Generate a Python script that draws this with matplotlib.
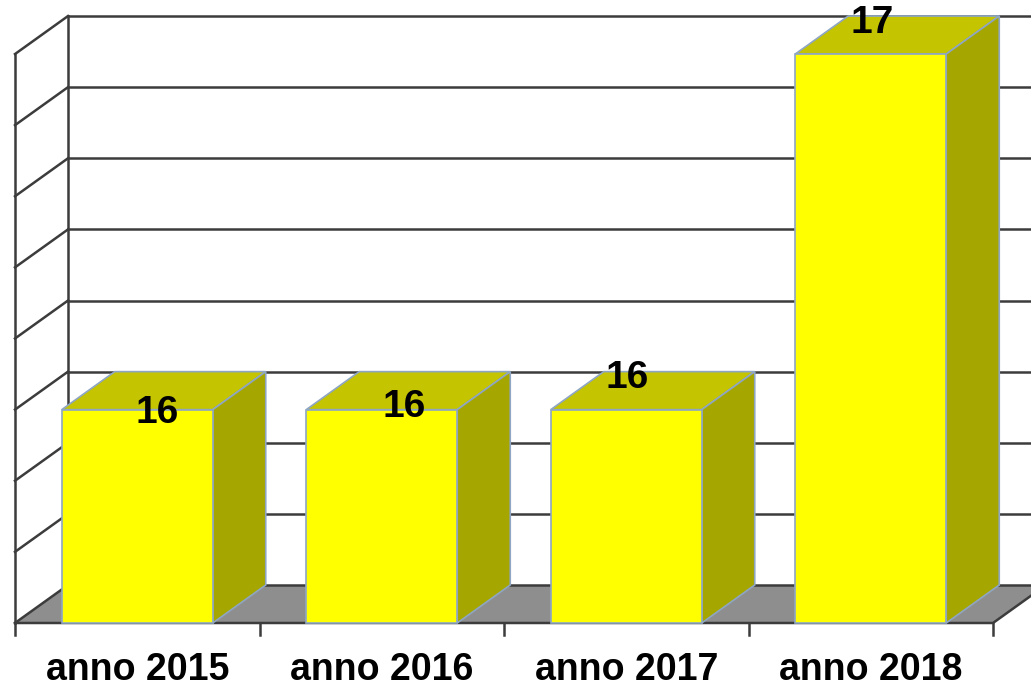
import matplotlib
matplotlib.use("Agg")
import matplotlib.pyplot as plt
from matplotlib.patches import Polygon, Rectangle

# data
categories = ["anno 2015", "anno 2016", "anno 2017", "anno 2018"]
values = [16, 16, 16, 17]
y_min = 15.4
y_max = 17.0
y_step = 0.2

# look
FRONT = "#FFFF00"
TOP = "#C4C400"
SIDE = "#A6A600"
EDGE = "#8EA6C4"
FLOOR = "#8E8E8E"
GRID = "#3C3C3C"

# geometry (pixels of the 1031x689 picture)
PX_CAT = 244.5        # pixels per category
PX_VAL = 355.6        # pixels per unit of value
X0_PX = 15            # left end of floor front edge
FLOOR_PX = 623        # front floor line
DX = 53 / PX_CAT      # depth offset in data units
DY = 38 / PX_VAL
BAR_W = 151 / PX_CAT
# label nudges in pixels (right, up), like excel put them
label_nudge = [(20, -3), (22, 3), (1, 32), (1, 31)]

plt.rcParams["font.family"] = ["Liberation Sans", "DejaVu Sans"]

fig = plt.figure(figsize=(10.31, 6.89), dpi=100)
ax = fig.add_axes([0, 0, 1, 1])
ax.axis("off")
ax.set_xlim(-X0_PX / PX_CAT - 0.5, (1031 - X0_PX) / PX_CAT - 0.5)
ax.set_ylim(y_min - (689 - FLOOR_PX) / PX_VAL, y_min + FLOOR_PX / PX_VAL)

n = len(categories)
x0 = -0.5
x1 = n - 0.5

# floor
ax.add_patch(Polygon([(x0, y_min), (x1, y_min), (x1 + DX, y_min + DY), (x0 + DX, y_min + DY)],
                     closed=True, facecolor=FLOOR, edgecolor="none", zorder=1))
ax.plot([x0, x1, x1 + DX], [y_min, y_min, y_min + DY], color=GRID, lw=1.8, zorder=2)

# back wall and left wall grid
k = 0
while y_min + k * y_step <= y_max + 1e-9:
    g = y_min + k * y_step
    ax.plot([x0 + DX, x1 + DX], [g + DY, g + DY], color=GRID, lw=1.8, zorder=2)
    ax.plot([x0, x0 + DX], [g, g + DY], color=GRID, lw=1.8, zorder=2)
    k += 1
ax.plot([x0, x0], [y_min, y_max], color=GRID, lw=1.8, zorder=2)
ax.plot([x0 + DX, x0 + DX], [y_min + DY, y_max + DY], color=GRID, lw=1.8, zorder=2)

# bars
for i, v in enumerate(values):
    l = i - BAR_W / 2
    r = i + BAR_W / 2
    ax.add_patch(Rectangle((l, y_min), BAR_W, v - y_min, facecolor=FRONT,
                           edgecolor=EDGE, lw=1.2, zorder=4))
    ax.add_patch(Polygon([(l, v), (r, v), (r + DX, v + DY), (l + DX, v + DY)], closed=True,
                         facecolor=TOP, edgecolor=EDGE, lw=1.2, zorder=3))
    ax.add_patch(Polygon([(r, y_min), (r + DX, y_min + DY), (r + DX, v + DY), (r, v)], closed=True,
                         facecolor=SIDE, edgecolor=EDGE, lw=1.2, zorder=3))
    nx, ny = label_nudge[i]
    ax.annotate(str(v), xy=(i, v), xytext=(nx, ny), textcoords="offset pixels",
                ha="center", va="center", fontsize=28, fontweight="bold", zorder=6)
    ax.text(i, y_min - 47 / PX_VAL, categories[i], ha="center", va="center",
            fontsize=27, fontweight="bold")

# tick marks under the floor
for j in range(n + 1):
    ax.plot([x0 + j, x0 + j], [y_min, y_min - 12 / PX_VAL], color=GRID, lw=1.8, zorder=2)

plt.savefig("out.png", dpi=100)
